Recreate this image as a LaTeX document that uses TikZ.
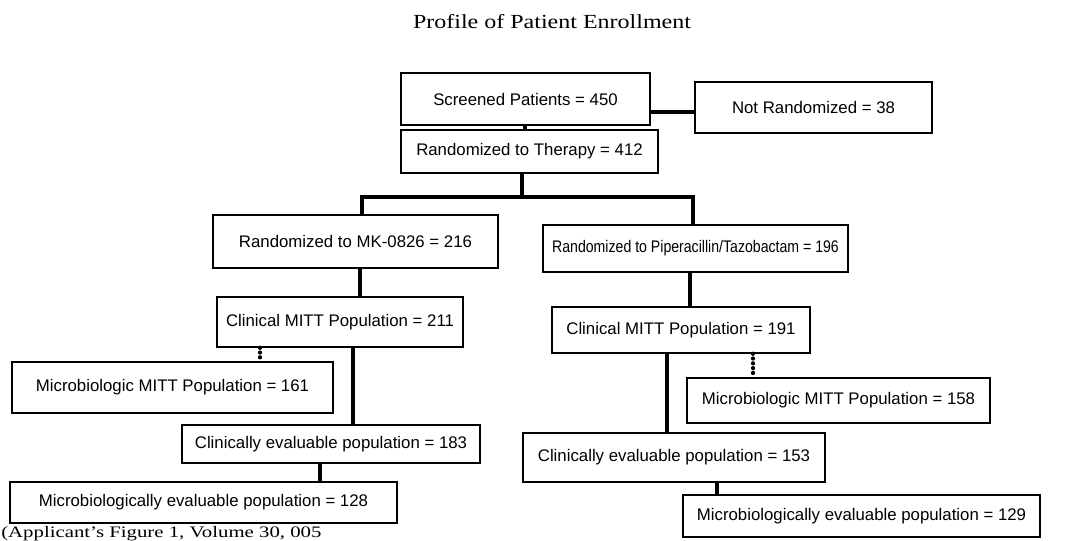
\documentclass[tikz,border=0pt]{standalone}
\usepackage{fontspec}
\setmainfont{Liberation Serif}
\newfontfamily\boxfont{Liberation Sans}
\usetikzlibrary{calc}
\newcommand\mybox[6]{\node[box, minimum width={(#4-#2)*0.75pt}, minimum height={(#5-#3)*0.75pt}] (#1) at ({(#2+#4)/2},{(#3+#5)/2}) {#6};}
\tikzset{
  box/.style={draw, line width=1.1pt, inner sep=0pt, font=\boxfont\fontsize{12.6}{14}\selectfont},
  conn/.style={line width=3.6pt},
  dotconn/.style={line width=3.2pt, line cap=round, dash pattern=on 0pt off 3.6pt},
}
\begin{document}
\begin{tikzpicture}[x=0.75pt,y=-0.75pt]
\useasboundingbox[fill=white] (0,0) rectangle (1074,541);
\node[font=\fontsize{15}{18}\selectfont] (title) at (552,22) {\scalebox{1.2}[1]{Profile of Patient Enrollment}};
\mybox{scr}{401}{73}{650}{125}{Screened Patients = 450}
\mybox{nr}{695}{82}{932}{133}{Not Randomized = 38}
\mybox{ther}{401}{130}{658}{173}{Randomized to Therapy = 412}
\mybox{mk}{213}{215}{498}{268}{Randomized to MK-0826 = 216}
\mybox{pip}{543}{225}{848}{272}{\scalebox{0.84}[1]{Randomized to Piperacillin/Tazobactam = 196}}
\mybox{cA}{217}{297}{463}{347}{Clinical MITT Population = 211}
\mybox{mA}{12}{362}{333}{413}{Microbiologic MITT Population = 161}
\mybox{eA}{182}{425}{480}{463}{Clinically evaluable population = 183}
\mybox{bA}{10}{482}{397}{523}{Microbiologically evaluable population = 128}
\mybox{cB}{552}{307}{810}{353}{Clinical MITT Population = 191}
\mybox{mB}{687}{378}{990}{423}{Microbiologic MITT Population = 158}
\mybox{eB}{523}{433}{825}{482}{Clinically evaluable population = 153}
\mybox{bB}{683}{495}{1040}{537}{Microbiologically evaluable population = 129}
\node[anchor=base west, inner sep=0pt, font=\fontsize{12}{14}\selectfont] (cap) at (1,537) {\scalebox{1.3}[1]{(Applicant's Figure 1, Volume 30, 005}};
% guide coordinates
\coordinate (gNR) at (0,112);
\coordinate (gS) at (525,0);
\coordinate (gT) at (522,197);
\coordinate (jL) at (362,197);
\coordinate (jR) at (693,197);
\coordinate (gMK) at (360,0);
\coordinate (gPip) at (690,0);
\coordinate (gdA) at (260,0);
\coordinate (geA) at (353,0);
\coordinate (gbA) at (320,0);
\coordinate (gdB) at (753,0);
\coordinate (geB) at (667,0);
\coordinate (gbB) at (717,0);
% connectors
\draw[conn] (scr.east |- gNR) -- (nr.west |- gNR);
\draw[conn] (scr.south -| gS) -- (ther.north -| gS);
\draw[conn] (ther.south -| gT) -- (gT);
\draw[conn] (mk.north -| jL) -- (jL) -- (jR) -- (pip.north -| jR);
\draw[conn] (mk.south -| gMK) -- (cA.north -| gMK);
\draw[conn] (pip.south -| gPip) -- (cB.north -| gPip);
\draw[dotconn] (cA.south -| gdA) -- (mA.north -| gdA);
\draw[conn] (cA.south -| geA) -- (eA.north -| geA);
\draw[conn] (eA.south -| gbA) -- (bA.north -| gbA);
\draw[dotconn] (cB.south -| gdB) -- (mB.north -| gdB);
\draw[conn] (cB.south -| geB) -- (eB.north -| geB);
\draw[conn] (eB.south -| gbB) -- (bB.north -| gbB);
\end{tikzpicture}
\end{document}
